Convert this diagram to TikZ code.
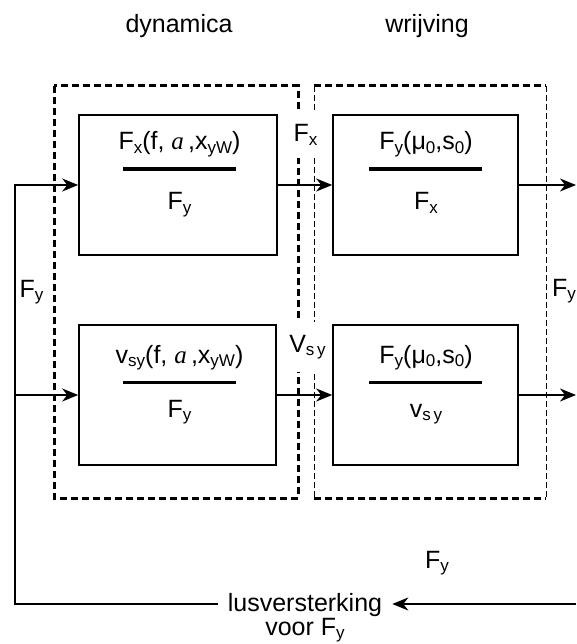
\documentclass[tikz,border=0pt]{standalone}
\usepackage{fontspec}
\setmainfont{Liberation Sans}
\newfontfamily\serifa{Liberation Serif}
\usetikzlibrary{arrows.meta}
\newcommand{\dsub}[1]{\raisebox{-0.14em}{\fontsize{17}{17}\selectfont #1}}
\begin{document}
\begin{tikzpicture}[x=1pt,y=-1pt,
  lbl/.style={font=\fontsize{25}{30}\selectfont, inner sep=0pt},
  blk/.style={draw, line width=1.6pt, minimum height=140pt, inner sep=0pt},
  conn/.style={line width=1.6pt, -{Stealth[length=16pt,width=13pt,inset=5pt]}},
  frameA/.style={line width=3pt, dash pattern=on 7pt off 4pt},
  frameB/.style={line width=1pt, dash pattern=on 6pt off 3pt},
  barA/.style={line width=4pt},
  barB/.style={line width=3pt},
  gaplbl/.style={lbl, fill=white, inner xsep=2pt}]
\useasboundingbox (0,0) rectangle (576,644);
% frames
\draw[frameA] (54,86) rectangle (298,498);
\draw[frameB] (314,86) -- (314,498);
\draw[frameB] (546,86) -- (546,498);
\draw[frameA] (314,86) -- (546,86);
\draw[frameA] (314,498) -- (546,498);
% headings
\node[lbl, anchor=base] (hd) at (179,33) {dynamica};
\node[lbl, anchor=base] (hw) at (427,33) {wrijving};
% blocks
\node[blk, minimum width=198pt] (b1) at (178,185) {};
\node[blk, minimum width=185pt] (b2) at (425.5,185) {};
\node[blk, minimum width=197pt] (b3) at (177.5,395) {};
\node[blk, minimum width=185pt] (b4) at (425.5,395) {};
% block contents
\node[lbl, anchor=base] (n1) at (179.5,150) {F\dsub{x}(f, {\serifa\itshape a}\,,x\dsub{yW})};
\draw[barA] (123,169) -- (236,169);
\node[lbl, anchor=base] (d1) at (179.5,210) {F\dsub{y}};
\node[lbl, anchor=base] (n2) at (426,150) {F\dsub{y}(μ\dsub{0},s\dsub{0})};
\draw[barA] (369,169) -- (482,169);
\node[lbl, anchor=base] (d2) at (426,210) {F\dsub{x}};
\node[lbl, anchor=base] (n3) at (179.5,363) {v\dsub{sy}(f, {\serifa\itshape a}\,,x\dsub{yW})};
\draw[barB] (123,382) -- (236,382);
\node[lbl, anchor=base] (d3) at (179.5,417) {F\dsub{y}};
\node[lbl, anchor=base] (n4) at (426,363) {F\dsub{y}(μ\dsub{0},s\dsub{0})};
\draw[barB] (369,382) -- (482,382);
\node[lbl, anchor=base] (d4) at (426,417) {v\dsub{s\,y}};
% labels
\node[gaplbl, anchor=base, inner ysep=13pt] (lfx) at (305.5,142) {F\dsub{x}};
\node[gaplbl, anchor=base, inner ysep=13pt] (lvs) at (307.5,352) {V\dsub{s\,y}};
\node[lbl, anchor=base] (lfyl) at (31.5,297) {F\dsub{y}};
\node[lbl, anchor=base west] (lfyr) at (552,296) {F\dsub{y}};
\node[lbl, anchor=base west] (lfyb) at (425,568) {F\dsub{y}};
\node[lbl, anchor=base, inner xsep=10pt] (lus) at (305,611) {lusversterking};
\node[lbl, anchor=base] (voor) at (305,635) {voor F\dsub{y}};
% coordinates
\coordinate (fbTop) at (15,185);
\coordinate (fbMid) at (15,395);
\coordinate (fbBot) at (15,604);
\coordinate (fbR) at (576,604);
\coordinate (out1) at (576,185);
\coordinate (out2) at (576,395);
% connectors
\draw[conn] (lus.west |- fbBot) -- (fbBot) -- (fbTop) -- (b1.west);
\draw[conn] (fbMid) -- (b3.west);
\draw[conn] (b1.east) -- (b2.west);
\draw[conn] (b3.east) -- (b4.west);
\draw[conn] (b2.east) -- (out1);
\draw[conn] (b4.east) -- (out2);
\draw[conn] (fbR) -- (lus.east |- fbR);
\end{tikzpicture}
\end{document}
